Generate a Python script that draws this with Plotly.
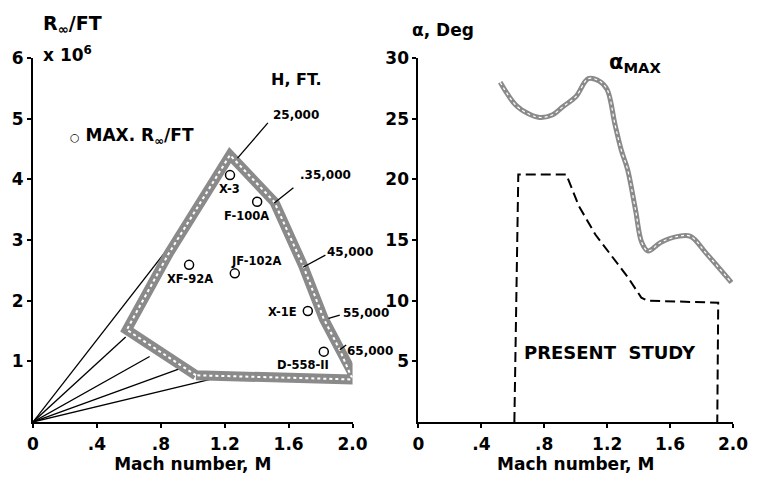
import plotly.graph_objects as go

# ---------------- Left panel data: Reynolds number per foot vs Mach ----------------
# Flight envelope band (centerline)
env_M = [1.02, 0.587, 0.85, 1.233, 1.51, 1.69, 1.82, 1.92, 1.99, 2.02, 1.02]
env_R = [0.77, 1.52, 2.78, 4.40, 3.63, 2.58, 1.70, 1.19, 0.76, 0.70, 0.77]

# Constant-altitude rays from origin (end points)
ray_M = [0.93, 0.58, 0.73, 0.92, 1.20]
ray_R = [3.15, 1.40, 1.08, 0.88, 0.76]

# Aircraft maximum R/ft points
ac_names = ["X-3", "F-100A", "JF-102A", "XF-92A", "X-1E", "D-558-II"]
ac_M = [1.233, 1.403, 1.263, 0.977, 1.72, 1.82]
ac_R = [4.07, 3.63, 2.45, 2.59, 1.83, 1.16]
ac_lab_M = [1.23, 1.335, 1.40, 0.98, 1.56, 1.69]
ac_lab_R = [3.84, 3.40, 2.66, 2.36, 1.82, 0.94]

# Altitude labels (left edge) and leader lines
alt_names = ["25,000", ".35,000", "45,000", "55,000", "65,000"]
alt_lab_M = [1.49, 1.66, 1.83, 1.925, 1.955]
alt_lab_R = [5.06, 4.07, 2.80, 1.80, 1.17]
lead_M0 = [1.47, 1.63, 1.83, 1.92, 1.96]
lead_R0 = [4.93, 3.86, 2.75, 1.76, 1.27]
lead_M1 = [1.28, 1.51, 1.69, 1.85, 1.92]
lead_R1 = [4.35, 3.61, 2.55, 1.71, 1.19]

# ---------------- Right panel data: angle of attack vs Mach ----------------
amax_M = [0.52, 0.62, 0.70, 0.77, 0.85, 0.92, 1.0, 1.08, 1.15, 1.20, 1.25, 1.29, 1.33,
          1.38, 1.42, 1.46, 1.54, 1.65, 1.73, 1.83, 1.99]
amax_A = [28.0, 26.1, 25.4, 25.1, 25.3, 26.0, 26.8, 28.3, 28.1, 27.4, 24.5, 22.4, 20.8,
          17.5, 14.8, 14.1, 14.8, 15.3, 15.3, 13.9, 11.5]

study_M = [0.61, 0.635, 0.94, 1.02, 1.125, 1.23, 1.333, 1.417, 1.458, 1.906, 1.90]
study_A = [0.0, 20.4, 20.4, 17.8, 15.45, 13.7, 11.9, 10.25, 10.0, 9.83, 0.0]

x_tickvals = [0, 0.4, 0.8, 1.2, 1.6, 2.0]
x_ticktext = ["0", ".4", ".8", "1.2", "1.6", "2.0"]
yl_tickvals = [1, 2, 3, 4, 5, 6]
yr_tickvals = [5, 10, 15, 20, 25, 30]

FONT = "DejaVu Sans"
BAND_GRAY = "#8a8a8a"

fig = go.Figure()

# rays
for m, r in zip(ray_M, ray_R):
    fig.add_trace(go.Scatter(x=[0, m], y=[0, r], mode="lines",
                             line=dict(color="black", width=1.3),
                             xaxis="x", yaxis="y", showlegend=False, hoverinfo="skip"))

# envelope band
fig.add_trace(go.Scatter(x=env_M, y=env_R, mode="lines",
                         line=dict(color=BAND_GRAY, width=10),
                         xaxis="x", yaxis="y", showlegend=False, hoverinfo="skip"))
fig.add_trace(go.Scatter(x=env_M, y=env_R, mode="lines",
                         line=dict(color="white", width=2, dash="dot"),
                         xaxis="x", yaxis="y", showlegend=False, hoverinfo="skip"))

# leader lines
for m0, r0, m1, r1 in zip(lead_M0, lead_R0, lead_M1, lead_R1):
    fig.add_trace(go.Scatter(x=[m0, m1], y=[r0, r1], mode="lines",
                             line=dict(color="black", width=1.3),
                             xaxis="x", yaxis="y", showlegend=False, hoverinfo="skip"))

# aircraft points
fig.add_trace(go.Scatter(x=ac_M, y=ac_R, mode="markers",
                         marker=dict(symbol="circle-open", size=9, color="black",
                                     line=dict(width=1.5, color="black")),
                         xaxis="x", yaxis="y", showlegend=False, hoverinfo="skip"))

# right panel: alpha max band
fig.add_trace(go.Scatter(x=amax_M, y=amax_A, mode="lines", line_shape="spline",
                         line=dict(color=BAND_GRAY, width=5),
                         xaxis="x2", yaxis="y2", showlegend=False, hoverinfo="skip"))
fig.add_trace(go.Scatter(x=amax_M, y=amax_A, mode="lines", line_shape="spline",
                         line=dict(color="white", width=1.2, dash="dot"),
                         xaxis="x2", yaxis="y2", showlegend=False, hoverinfo="skip"))

# present study dashed boundary
fig.add_trace(go.Scatter(x=study_M, y=study_A, mode="lines",
                         line=dict(color="black", width=2, dash="10px,5px"),
                         xaxis="x2", yaxis="y2", showlegend=False, hoverinfo="skip"))

axis_common = dict(showline=True, linecolor="black", linewidth=2, showgrid=False,
                   zeroline=False, ticks="outside", ticklen=4, tickwidth=2,
                   tickcolor="black",
                   tickfont=dict(family=FONT, size=17, color="black", weight="bold"))
title_font = dict(family=FONT, size=17, color="black", weight="bold")

fig.update_layout(
    width=760, height=483,
    margin=dict(l=28, r=20, t=58, b=61),
    paper_bgcolor="white", plot_bgcolor="white",
    showlegend=False,
    xaxis=dict(domain=[0, 0.4565], range=[0, 2.0], tickvals=x_tickvals, ticktext=x_ticktext,
               title=dict(text="Mach number, M", standoff=4, font=title_font),
               ticklabelstandoff=2, anchor="y", **axis_common),
    yaxis=dict(domain=[0, 1], range=[0, 6], tickvals=yl_tickvals, anchor="x", **axis_common),
    xaxis2=dict(domain=[0.5506, 1.0], range=[0, 2.0], tickvals=x_tickvals, ticktext=x_ticktext,
                title=dict(text="Mach number, M", standoff=4, font=title_font),
                ticklabelstandoff=2, anchor="y2", **axis_common),
    yaxis2=dict(domain=[0, 1], range=[0, 30], tickvals=yr_tickvals, anchor="x2", **axis_common),
)

annots = []
def txt(text, x, y, xref, yref, size, xanchor="center", yanchor="middle", weight="bold"):
    annots.append(dict(text=text, x=x, y=y, xref=xref, yref=yref, showarrow=False,
                       xanchor=xanchor, yanchor=yanchor,
                       font=dict(family=FONT, size=size, color="black", weight=weight)))

for name, m, r in zip(ac_names, ac_lab_M, ac_lab_R):
    txt(name, m, r, "x", "y", 11.5)
for name, m, r in zip(alt_names, alt_lab_M, alt_lab_R):
    txt(name, m, r, "x", "y", 12, xanchor="left")
txt("H, FT.", 1.65, 5.64, "x", "y", 16)
txt("<span style='font-size:11px'>○</span> MAX. R<sub>∞</sub>/FT", 0.22, 4.70, "x", "y", 17,
    xanchor="left")
txt("R<sub>∞</sub>/FT", 0.011, 1.093, "paper", "paper", 19, xanchor="left")
txt("x 10<sup>6</sup>", 0.011, 1.01, "paper", "paper", 17, xanchor="left")
txt("α, Deg", 0.538, 1.077, "paper", "paper", 17, xanchor="left")
txt("α<sub>MAX</sub>", 1.20, 29.6, "x2", "y2", 21, xanchor="left")
txt("PRESENT  STUDY", 1.22, 5.7, "x2", "y2", 18)

fig.update_layout(annotations=annots)
# remove the browser's default body margin so the figure fills the window exactly
fig.write_html("out.html", config={"displayModeBar": False},
               post_script="document.body.style.margin='0';")
